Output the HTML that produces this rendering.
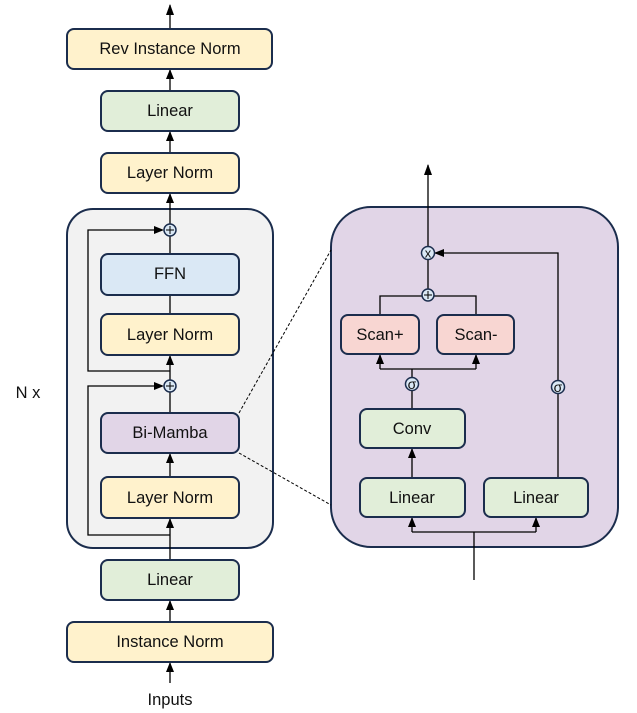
<!DOCTYPE html>
<html><head><meta charset="utf-8"><style>
html,body{margin:0;padding:0;background:#fff;}
svg{display:block;}
text{font-family:"Liberation Sans",sans-serif;font-size:16.5px;fill:#111;text-anchor:middle;dominant-baseline:central;}
.b{stroke:#1b2d4d;stroke-width:2;}
.l{stroke:#000;stroke-width:1.3;fill:none;}
.y{fill:#fff2cc;}.g{fill:#e1eed9;}.p{fill:#e1d5e7;}.bl{fill:#dae8f5;}.r{fill:#f8d6d2;}
.c{fill:#dae8f5;stroke:#1b2d4d;stroke-width:1.5;}
</style></head><body>
<svg width="637" height="713" viewBox="0 0 637 713" xmlns="http://www.w3.org/2000/svg">
<rect x="67" y="209" width="206" height="339" rx="26" fill="#f2f2f2" class="b"/>
<rect x="331" y="207" width="287" height="340" rx="40" class="b p"/>
<line x1="239" y1="413" x2="331" y2="250" stroke="#000" stroke-width="1" stroke-dasharray="3,2"/>
<line x1="239" y1="453" x2="331" y2="505" stroke="#000" stroke-width="1" stroke-dasharray="3,2"/>
<path class="l" d="M170 683V662 M170 622V600 M170 560V518 M170 477V453 M170 413V392 M170 380V355 M170 314V295 M170 254V236 M170 224V193 M170 153V131 M170 91V69 M170 29V5"/>
<path class="l" d="M170 535H88V386H162 M170 371H88V230H162"/>
<g fill="#000">
<polygon points="166,672 174,672 170,662"/>
<polygon points="166,610 174,610 170,600"/>
<polygon points="166,528 174,528 170,518"/>
<polygon points="166,463 174,463 170,453"/>
<polygon points="166,365 174,365 170,355"/>
<polygon points="166,203 174,203 170,193"/>
<polygon points="166,141 174,141 170,131"/>
<polygon points="166,79 174,79 170,69"/>
<polygon points="166,15 174,15 170,4"/>
<polygon points="154,226 154,234 164,230"/>
<polygon points="154,382 154,390 164,386"/>
</g>
<circle cx="170" cy="230" r="6" class="c"/><path d="M166 230h8M170 226v8" stroke="#000" stroke-width="1"/>
<circle cx="170" cy="386" r="6" class="c"/><path d="M166 386h8M170 382v8" stroke="#000" stroke-width="1"/>
<rect x="67" y="29" width="205" height="40" rx="7" class="b y"/><text x="170" y="49">Rev Instance Norm</text>
<rect x="101" y="91" width="138" height="40" rx="7" class="b g"/><text x="170" y="111">Linear</text>
<rect x="101" y="153" width="138" height="40" rx="7" class="b y"/><text x="170" y="173">Layer Norm</text>
<rect x="101" y="254" width="138" height="41" rx="7" class="b bl"/><text x="170" y="274">FFN</text>
<rect x="101" y="314" width="138" height="41" rx="7" class="b y"/><text x="170" y="335">Layer Norm</text>
<rect x="101" y="413" width="138" height="40" rx="7" class="b p"/><text x="170" y="433">Bi-Mamba</text>
<rect x="101" y="477" width="138" height="41" rx="7" class="b y"/><text x="170" y="498">Layer Norm</text>
<rect x="101" y="560" width="138" height="40" rx="7" class="b g"/><text x="170" y="580">Linear</text>
<rect x="67" y="622" width="206" height="40" rx="7" class="b y"/><text x="170" y="642">Instance Norm</text>
<text x="170" y="700">Inputs</text>
<text x="28" y="393">N x</text>
<path class="l" d="M474 580V532 M412 532H536 M412 532V517 M536 532V517 M412 478V448 M412 409V391 M412 377V369 M380 369H476 M380 369V354 M476 369V354 M380 315V296H476V315 M428 289V259 M428 247V165 M558 478V394 M558 380V253H434"/>
<g fill="#000">
<polygon points="408,527 416,527 412,517"/>
<polygon points="532,527 540,527 536,517"/>
<polygon points="408,458 416,458 412,448"/>
<polygon points="376,364 384,364 380,354"/>
<polygon points="472,364 480,364 476,354"/>
<polygon points="424,175 432,175 428,164"/>
<polygon points="444,249 444,257 434,253"/>
</g>
<circle cx="428" cy="253" r="6.5" class="c"/><text x="428" y="253" style="font-size:13px">x</text>
<circle cx="428" cy="295" r="6" class="c"/><path d="M424 295h8M428 291v8" stroke="#000" stroke-width="1"/>
<circle cx="412" cy="384" r="6.5" class="c"/><text x="412" y="384" style="font-size:14px">σ</text>
<circle cx="558" cy="387" r="6.5" class="c"/><text x="558" y="387" style="font-size:14px">σ</text>
<rect x="341" y="315" width="78" height="39" rx="7" class="b r"/><text x="380" y="335">Scan+</text>
<rect x="437" y="315" width="77" height="39" rx="7" class="b r"/><text x="476" y="335">Scan-</text>
<rect x="360" y="409" width="105" height="39" rx="7" class="b g"/><text x="412" y="429">Conv</text>
<rect x="360" y="478" width="105" height="39" rx="7" class="b g"/><text x="412" y="498">Linear</text>
<rect x="484" y="478" width="104" height="39" rx="7" class="b g"/><text x="536" y="498">Linear</text>
</svg>
</body></html>
